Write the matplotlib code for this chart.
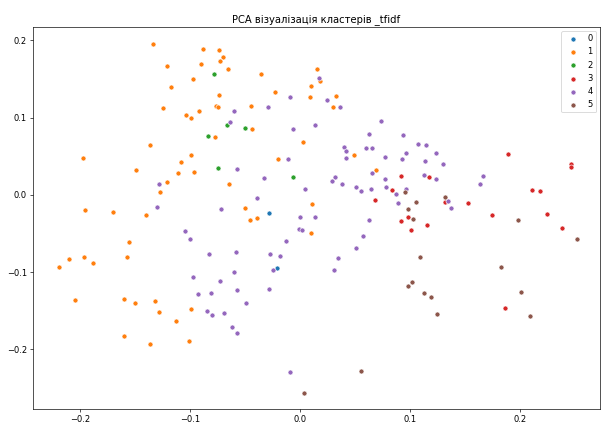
import matplotlib
matplotlib.use("Agg")
import matplotlib.pyplot as plt

# PCA coordinates per cluster
x0 = [-0.0282, -0.0209]
y0 = [-0.0236, -0.0951]

x1 = [-0.1334, -0.0885, -0.0736, -0.0697, -0.0727, -0.1206, -0.0903, -0.0652,
      -0.0975, -0.1170, -0.0736, -0.1243, -0.0766, -0.0748, -0.0921, -0.1036,
      -0.0994, -0.0775, -0.1366, -0.0991, -0.0352, 0.0155, 0.0182, 0.0100,
      -0.0227, 0.0088, 0.0327, -0.0445, 0.0300, -0.0439, 0.0027, 0.0488,
      -0.0206, 0.0691, -0.0647, -0.0503, 0.0103, -0.0455, -0.0391, 0.0097,
      -0.1975, -0.1079, -0.1488, -0.1109, -0.0961, -0.1206, -0.1270, -0.1955,
      -0.1700, -0.1400, -0.1557, -0.1573, -0.2194, -0.2100, -0.1966, -0.1879,
      -0.2045, -0.1600, -0.1500, -0.1315, -0.1285, -0.1127, -0.0991, -0.1603,
      -0.1364, -0.1012]
y1 = [0.1952, 0.1891, 0.1878, 0.1788, 0.1732, 0.1671, 0.1689, 0.1625,
      0.1499, 0.1399, 0.1296, 0.1128, 0.1153, 0.1137, 0.1085, 0.1029,
      0.0990, 0.0744, 0.0645, 0.0518, 0.1560, 0.1632, 0.1473, 0.1408,
      0.1327, 0.1266, 0.1275, 0.1146, 0.1137, 0.0856, 0.0687, 0.0520,
      0.0463, 0.0321, 0.0142, -0.0167, -0.0119, -0.0326, -0.0296, -0.0498,
      0.0480, 0.0425, 0.0317, 0.0278, 0.0291, 0.0162, 0.0040, -0.0193,
      -0.0227, -0.0258, -0.0615, -0.0809, -0.0939, -0.0835, -0.0801, -0.0879,
      -0.1366, -0.1353, -0.1397, -0.1379, -0.1517, -0.1638, -0.1474, -0.1832,
      -0.1935, -0.1896]

x2 = [-0.0785, -0.0661, -0.0836, -0.0503, -0.0748, -0.0066]
y2 = [0.1560, 0.0907, 0.0765, 0.0869, 0.0347, 0.0230]

x3 = [0.1888, 0.2464, 0.2457, 0.0918, 0.1173, 0.0836, 0.2109, 0.2182,
      0.1318, 0.1521, 0.0982, 0.0912, 0.1739, 0.2239, 0.1155, 0.1006,
      0.2379, 0.0682, 0.1857]
y3 = [0.0522, 0.0395, 0.0364, 0.0239, 0.0234, 0.0062, 0.0058, 0.0045,
      -0.0097, -0.0110, -0.0283, -0.0343, -0.0265, -0.0249, -0.0391, -0.0456,
      -0.0426, -0.0067, -0.1469]

x4 = [0.0173, -0.0094, 0.0243, -0.0297, 0.0366, -0.0603, -0.0636, -0.0066,
      0.0134, 0.0734, 0.0621, 0.0394, 0.0415, 0.0597, 0.0655, 0.0930,
      0.1073, 0.1139, 0.0961, 0.1230, 0.0770, 0.0925, 0.1136, 0.1294,
      0.1127, 0.1236, 0.1657, 0.1636, 0.0768, 0.0779, 0.0957, 0.0868,
      0.1339, 0.0888, 0.1370, -0.0115, 0.0412, -0.0573, -0.0327, 0.0312,
      0.0291, 0.0379, 0.0655, 0.0043, 0.0506, 0.0552, 0.0639, -0.0388,
      -0.0721, -0.0003, 0.0130, -0.0012, 0.0015, 0.0621, 0.0573, -0.0127,
      0.0503, -0.0827, -0.0579, -0.0270, -0.0179, 0.0345, -0.0600, -0.0248,
      0.0306, -0.1282, -0.1300, -0.1048, -0.1000, -0.0727, -0.0925, -0.0809,
      -0.0570, -0.0285, -0.0488, -0.0843, -0.0797, -0.0688, -0.0615, -0.0573,
      -0.0097, -0.0973]
y4 = [0.1508, 0.1266, 0.1223, 0.1133, 0.1140, 0.1089, 0.0939, 0.0856,
      0.0900, 0.0955, 0.0783, 0.0619, 0.0561, 0.0610, 0.0610, 0.0774,
      0.0654, 0.0645, 0.0535, 0.0541, 0.0493, 0.0460, 0.0441, 0.0399,
      0.0260, 0.0201, 0.0239, 0.0144, 0.0202, 0.0101, 0.0071, 0.0004,
      -0.0084, -0.0104, -0.0175, 0.0463, 0.0472, 0.0330, 0.0217, 0.0234,
      0.0179, 0.0144, 0.0278, 0.0079, 0.0105, 0.0045, 0.0079, -0.0038,
      -0.0184, -0.0291, -0.0283, -0.0439, -0.0456, -0.0330, -0.0537, -0.0602,
      -0.0685, -0.0770, -0.0744, -0.0770, -0.0796, -0.0814, -0.1003, -0.0977,
      -0.0968, 0.0144, -0.0162, -0.0469, -0.0576, -0.1116, -0.1288, -0.1271,
      -0.1236, -0.1216, -0.1397, -0.1500, -0.1560, -0.1534, -0.1707, -0.1785,
      -0.2298, -0.1060]

x5 = [0.0948, 0.1312, 0.1052, 0.0975, 0.1021, 0.1975, 0.2512, 0.1091,
      0.1827, 0.1012, 0.0979, 0.1127, 0.1188, 0.1239, 0.2009, 0.2085,
      0.0548, 0.0034]
y5 = [0.0036, -0.0028, -0.0097, -0.0180, -0.0317, -0.0330, -0.0576, -0.0809,
      -0.0935, -0.1125, -0.1184, -0.1275, -0.1319, -0.1543, -0.1262, -0.1565,
      -0.2281, -0.2562]

labels = ['0', '1', '2', '3', '4', '5']
xs = [x0, x1, x2, x3, x4, x5]
ys = [y0, y1, y2, y3, y4, y5]
colors = ['#1f77b4', '#ff7f0e', '#2ca02c', '#d62728', '#9467bd', '#8c564b']

fig = plt.figure(figsize=(601 / 60, 423 / 60), dpi=60)
ax = fig.add_axes([0.0544, 0.0324, 0.9446, 0.9045])

for x, y, c, lab in zip(xs, ys, colors, labels):
    ax.scatter(x, y, s=36, c=c, edgecolors='white', linewidths=0.75, label=lab)

ax.set_xlim(-0.2430, 0.2727)
ax.set_ylim(-0.2777, 0.2176)
ax.set_xticks([-0.2, -0.1, 0.0, 0.1, 0.2])
ax.set_yticks([-0.2, -0.1, 0.0, 0.1, 0.2])
ax.set_title('PCA візуалізація кластерів _tfidf', fontsize=12)
ax.legend(loc='upper right')

fig.savefig('out.png', dpi=60)
